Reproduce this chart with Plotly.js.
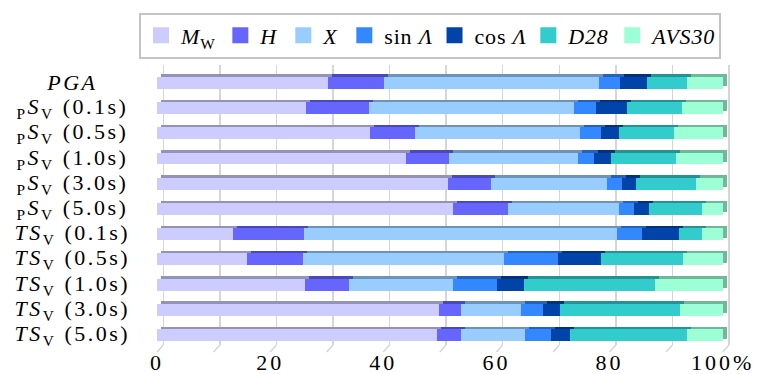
<!DOCTYPE html>
<html>
<head>
<meta charset="utf-8">
<script src="https://cdn.plot.ly/plotly-3.0.1.min.js"></script>
<style>
html,body{margin:0;padding:0;background:#fff;}
#chart svg text.legendtext{letter-spacing:0.8px;}
#chart svg text.annotation-text{letter-spacing:2.5px;}
#chart svg g.x3tick text{letter-spacing:3px;}
</style>
</head>
<body>
<div id="chart" style="width:764px;height:374px;"></div>
<script>
// ---- data (percent contribution of each predictor) ----
const categories = ['PGA','pSv (0.1s)','pSv (0.5s)','pSv (1.0s)','pSv (3.0s)','pSv (5.0s)',
                    'TSv (0.1s)','TSv (0.5s)','TSv (1.0s)','TSv (3.0s)','TSv (5.0s)'];
const categoryLabels = ['<i>PGA</i>',
  '<sub>P</sub><i>S</i><sub>V</sub> (0.1s)','<sub>P</sub><i>S</i><sub>V</sub> (0.5s)',
  '<sub>P</sub><i>S</i><sub>V</sub> (1.0s)','<sub>P</sub><i>S</i><sub>V</sub> (3.0s)',
  '<sub>P</sub><i>S</i><sub>V</sub> (5.0s)',
  '<i>TS</i><sub>V</sub> (0.1s)','<i>TS</i><sub>V</sub> (0.5s)','<i>TS</i><sub>V</sub> (1.0s)',
  '<i>TS</i><sub>V</sub> (3.0s)','<i>TS</i><sub>V</sub> (5.0s)'];
const seriesNames = ['<i>M</i><sub>W</sub>','<i>H</i>','<i>X</i>','sin <i>Λ</i>','cos <i>Λ</i>','<i>D28</i>','<i>AVS30</i>'];
const Mw    = [30.3, 26.3, 37.6, 44.0, 51.5, 52.4, 13.5, 15.9, 26.1, 49.8, 49.5];
const H     = [ 9.8, 11.2,  8.0,  7.6,  7.6,  9.7, 12.5,  9.9,  7.9,  3.9,  4.3];
const X     = [38.0, 36.2, 29.1, 22.8, 20.4, 19.6, 55.3, 35.5, 18.4, 10.6, 11.3];
const sinL  = [ 3.8,  3.9,  3.7,  2.8,  2.7,  2.6,  4.4,  9.6,  7.7,  4.0,  4.5];
const cosL  = [ 4.8,  5.4,  3.3,  3.1,  2.4,  2.7,  6.6,  7.5,  4.7,  2.9,  3.4];
const D28   = [ 6.9,  9.8,  9.7, 11.5, 10.6,  9.3,  4.1, 14.6, 23.2, 21.3, 20.6];
const AVS30 = [ 6.4,  7.2,  8.6,  8.2,  4.8,  3.7,  3.6,  7.0, 12.0,  7.5,  6.4];
const tickVals = [0, 20, 40, 60, 80, 100];
const tickText = ['0', '20', '40', '60', '80', '100%'];
const gridVals = [0,10,20,30,40,50,60,70,80,90,100];

const allSeries = [Mw, H, X, sinL, cosL, D28, AVS30];
const colors = ['#ccccff','#6666ff','#99ccff','#3388ff','#0044aa','#33cccc','#9cffd6'];

// ---- geometry (pixels) ----
const WID = 764, HEI = 374, L = 150, R = 24, T = 62, B = 29;
const PW = WID - L - R, PH = HEI - T - B;
const pxPerUnit = 5.657;
const frontZero = 157, gridZero = 163.3, depthX = 4, depthY = 2.5;
const rowPitch = 25.5, firstRowPx = 80;
function xr(zeroPx) { return [(L - zeroPx) / pxPerUnit, (L + PW - zeroPx) / pxPerUnit]; }
function yr(firstPx) { const top = -(firstPx - T) / rowPitch; return [top + PH / rowPitch, top]; }
function darker(hex, f) {
  const n = parseInt(hex.slice(1), 16);
  const r = Math.round(((n >> 16) & 255) * f), g = Math.round(((n >> 8) & 255) * f), b = Math.round((n & 255) * f);
  return 'rgb(' + r + ',' + g + ',' + b + ')';
}
const FONT = 'Liberation Serif';

const traces = [];
// base subplot (back wall gridlines)
traces.push({type: 'scatter', x: [], y: [], xaxis: 'x', yaxis: 'y', showlegend: false, hoverinfo: 'skip'});
// 3D depth faces
allSeries.forEach((vals, i) => {
  traces.push({type: 'bar', orientation: 'h', x: vals, y: categories, xaxis: 'x2', yaxis: 'y2',
    marker: {color: darker(colors[i], 0.72), line: {width: 0}}, showlegend: false, hoverinfo: 'skip'});
});
// front faces
allSeries.forEach((vals, i) => {
  traces.push({type: 'bar', orientation: 'h', x: vals, y: categories, xaxis: 'x3', yaxis: 'y3',
    marker: {color: colors[i], line: {width: 0}}, showlegend: false, name: seriesNames[i]});
});
// legend entries
allSeries.forEach((vals, i) => {
  traces.push({type: 'scatter', mode: 'markers', x: [null], y: [null], xaxis: 'x3', yaxis: 'y3',
    marker: {symbol: 'square', size: 16, color: colors[i], line: {width: 0}},
    name: seriesNames[i], hoverinfo: 'skip'});
});

const catAxis = {type: 'category', categoryorder: 'array', categoryarray: categories,
  showgrid: false, zeroline: false, showticklabels: false, showline: false, ticks: ''};

const shapes = gridVals.map(v => ({type: 'line', xref: 'x', yref: 'paper',
  x0: v, y0: 0, x1: v - (gridZero - frontZero) / pxPerUnit, y1: -7 / PH,
  line: {color: '#d6d6d6', width: 1.5}, layer: 'below'}));

const annotations = categories.map((c, i) => ({xref: 'paper', yref: 'y3', x: (72 - L) / PW, y: c,
  xanchor: 'center', yanchor: 'middle', showarrow: false,
  text: categoryLabels[i],
  font: {family: FONT, size: 22, color: '#000'}}));

const layout = {
  width: WID, height: HEI, margin: {l: L, r: R, t: T, b: B, pad: 0},
  paper_bgcolor: '#fff', plot_bgcolor: 'rgba(0,0,0,0)',
  barmode: 'stack', bargap: 0.53,
  font: {family: FONT, size: 22, color: '#000'},
  xaxis: {range: xr(gridZero), tickmode: 'array', tickvals: gridVals, showgrid: true,
    gridcolor: '#d6d6d6', gridwidth: 1.5, zeroline: false, showticklabels: false, ticks: '', showline: false},
  xaxis2: {overlaying: 'x', range: xr(frontZero + depthX), visible: false, anchor: 'y2'},
  xaxis3: {overlaying: 'x', anchor: 'y', side: 'bottom', range: xr(frontZero), showgrid: false, zeroline: false,
    tickmode: 'array', tickvals: tickVals, ticktext: tickText,
    ticks: '', showline: false, ticklabelstandoff: 2,
    tickfont: {family: FONT, size: 22, color: '#000'}},
  yaxis: Object.assign({}, catAxis, {range: yr(firstRowPx)}),
  yaxis2: Object.assign({}, catAxis, {overlaying: 'y', range: yr(firstRowPx - depthY), visible: false}),
  yaxis3: Object.assign({}, catAxis, {overlaying: 'y', range: yr(firstRowPx), visible: false}),
  shapes: shapes,
  annotations: annotations,
  showlegend: true,
  legend: {orientation: 'h', x: (139 - L) / PW, xanchor: 'left', y: (HEI - B - 9) / PH, yanchor: 'top',
    bgcolor: '#fff', bordercolor: '#c4c4c4', borderwidth: 2, itemwidth: 30,
    font: {family: FONT, size: 22, color: '#000'}, traceorder: 'normal'},
  hovermode: false
};

Plotly.newPlot('chart', traces, layout, {staticPlot: true, displayModeBar: false});
</script>
</body>
</html>
